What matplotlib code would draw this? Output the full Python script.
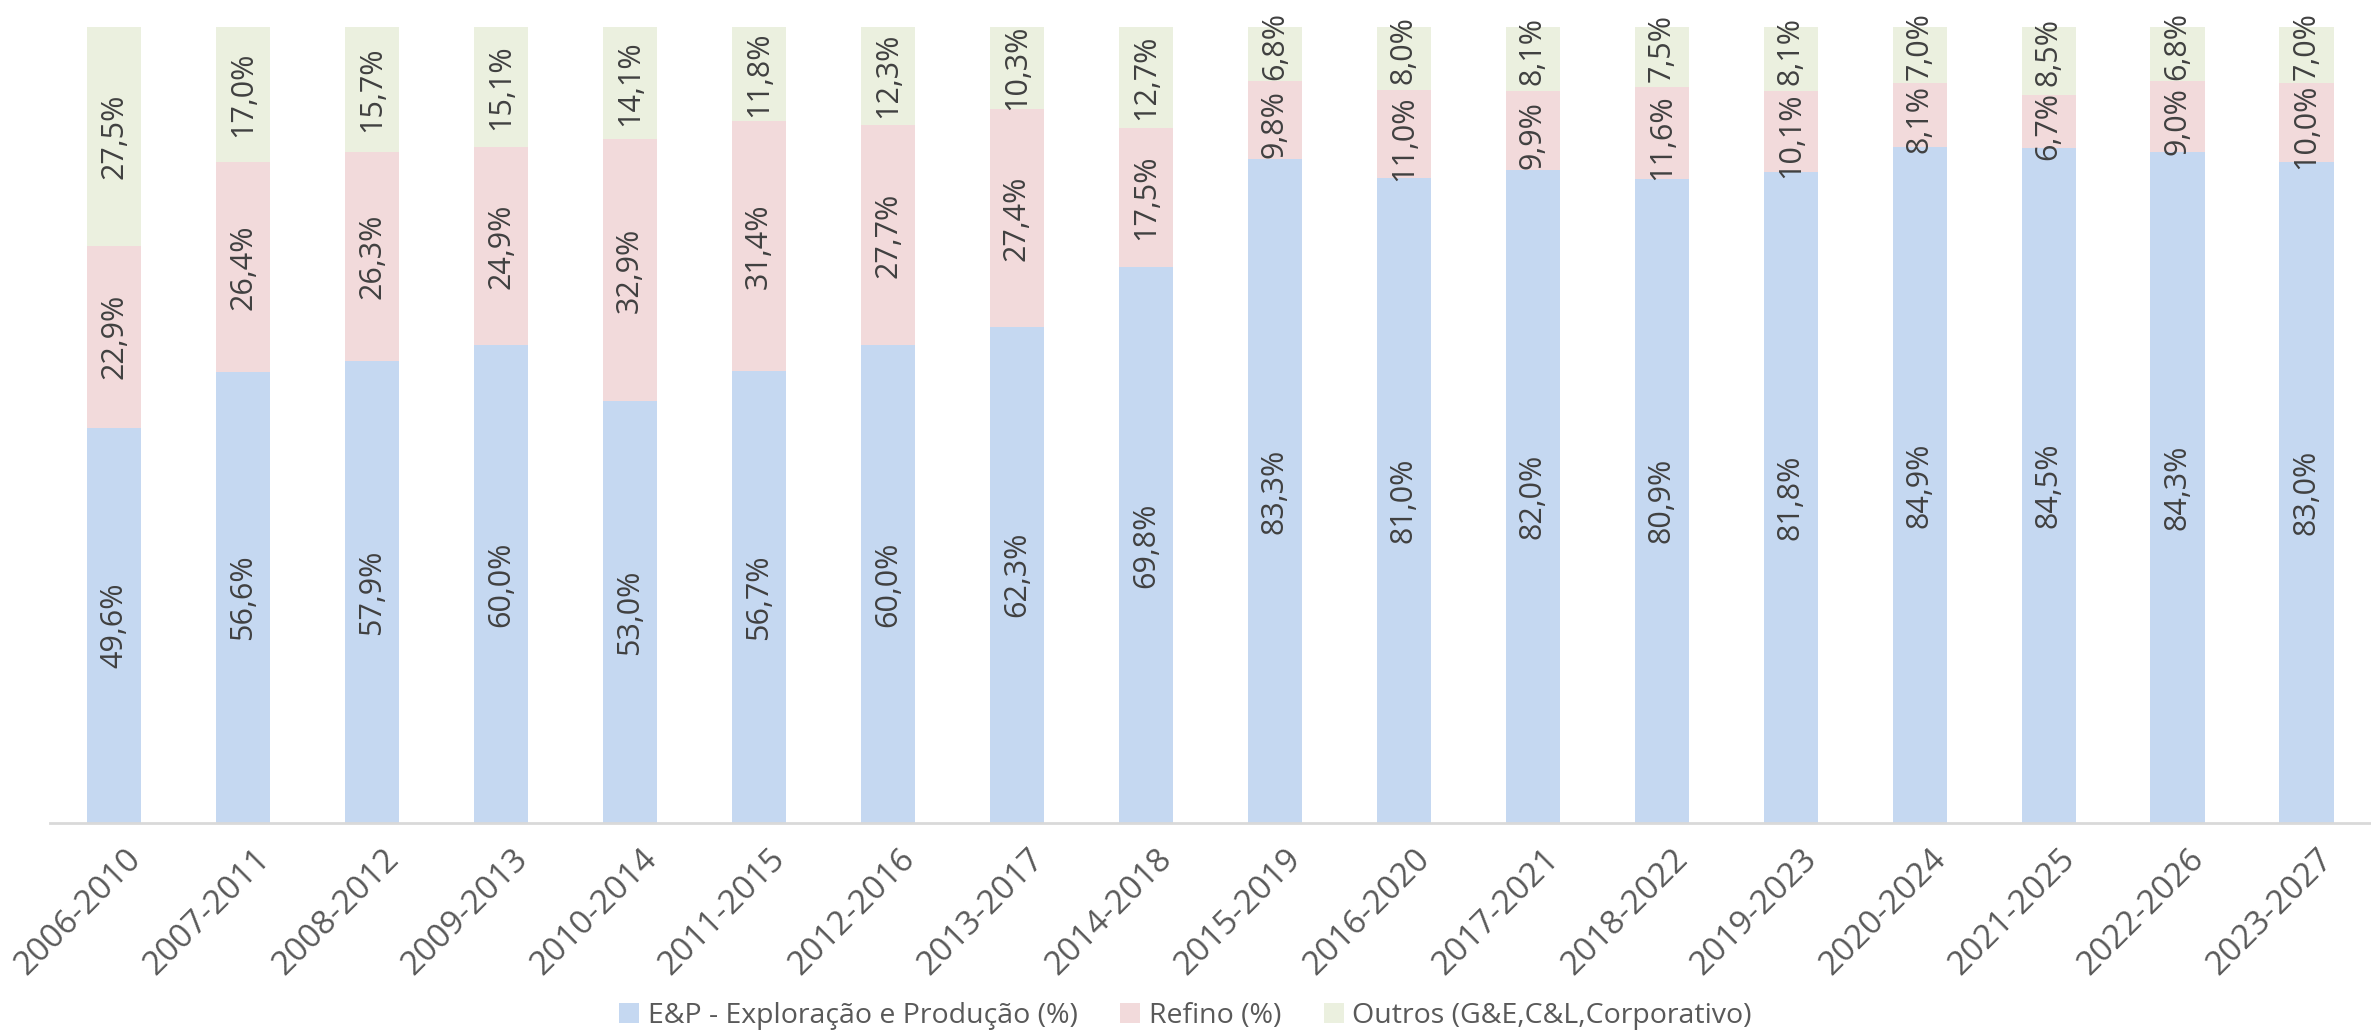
import matplotlib
matplotlib.use("Agg")
import matplotlib.pyplot as plt
import matplotlib.transforms as mtransforms
import numpy as np

periods = ['2006-2010', '2007-2011', '2008-2012', '2009-2013', '2010-2014', '2011-2015',
           '2012-2016', '2013-2017', '2014-2018', '2015-2019', '2016-2020', '2017-2021',
           '2018-2022', '2019-2023', '2020-2024', '2021-2025', '2022-2026', '2023-2027']
ep = [49.6, 56.6, 57.9, 60.0, 53.0, 56.7, 60.0, 62.3, 69.8, 83.3, 81.0, 82.0, 80.9, 81.8, 84.9, 84.5, 84.3, 83.0]
refino = [22.9, 26.4, 26.3, 24.9, 32.9, 31.4, 27.7, 27.4, 17.5, 9.8, 11.0, 9.9, 11.6, 10.1, 8.1, 6.7, 9.0, 10.0]
outros = [27.5, 17.0, 15.7, 15.1, 14.1, 11.8, 12.3, 10.3, 12.7, 6.8, 8.0, 8.1, 7.5, 8.1, 7.0, 8.5, 6.8, 7.0]

ep = np.array(ep)
refino = np.array(refino)
outros = np.array(outros)
tot = ep + refino + outros

fig = plt.figure(figsize=(23.71, 10.31), dpi=100)
ax = fig.add_axes([0.021, 0.202, 0.979, 0.772])

x = np.arange(len(periods))
w = 0.42
series = [
    (ep, 'E&P - Exploração e Produção (%)', '#C5D8F1', 0),
    (refino, 'Refino (%)', '#F2DADB', -3),
    (outros, 'Outros (G&E,C&L,Corporativo)', '#EBF0DF', 6),
]
small = outros / tot * 100 < 10   # crowded bars: labels pushed apart a bit
bottom = np.zeros(len(periods))
for vals, name, col, nudge in series:
    share = vals / tot * 100
    ax.bar(x, share, w, bottom=bottom, color=col, label=name)
    for i in range(len(x)):
        dy = nudge if small[i] else 0
        ax.annotate(f'{vals[i]:.1f}%'.replace('.', ','), (x[i], bottom[i] + share[i] / 2),
                    xytext=(0, dy), textcoords='offset points',
                    ha='center', va='center', rotation=90, fontsize=22,
                    color='#404040', family='Open Sans')
    bottom += share

ax.set_xlim(-0.5, len(periods) - 0.5)
ax.set_ylim(0, 100)
ax.set_yticks([])
for s in ['top', 'right', 'left']:
    ax.spines[s].set_visible(False)
ax.spines['bottom'].set_color('#D9D9D9')
ax.spines['bottom'].set_linewidth(2)
ax.set_xticks(x)
ax.set_xticklabels(periods, rotation=45, ha='right', rotation_mode='anchor',
                   fontsize=24, color='#595959', family='Open Sans')
ax.tick_params(axis='x', length=0, pad=14)
# nudge tick labels right a little, like the original
shift = mtransforms.ScaledTranslation(0.1, 0, fig.dpi_scale_trans)
for lbl in ax.get_xticklabels():
    lbl.set_transform(lbl.get_transform() + shift)

fig.legend(loc='lower center', ncol=3, frameon=False, bbox_to_anchor=(0.5, -0.024),
           prop={'family': 'Open Sans', 'size': 20.5}, labelcolor='#595959',
           handlelength=0.7, handleheight=0.7, handletextpad=0.3, columnspacing=1.5)

fig.savefig('out.png', dpi=100)
